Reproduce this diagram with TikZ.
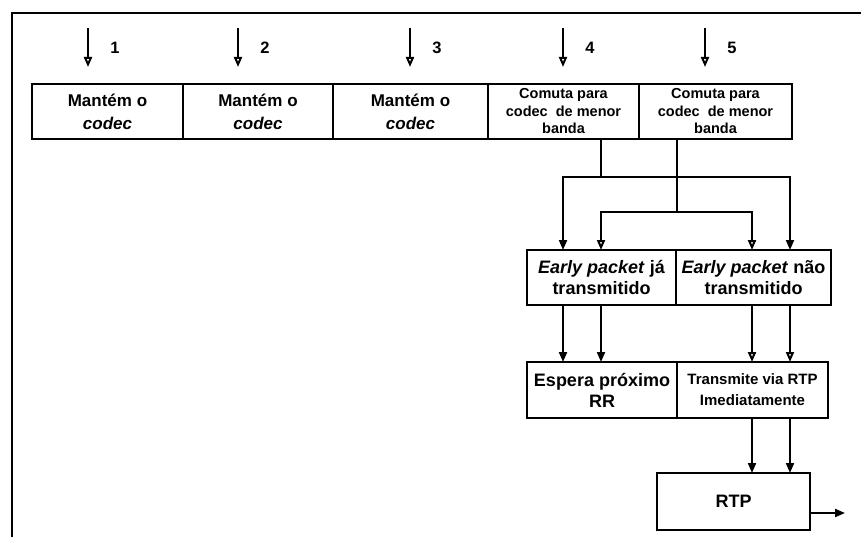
\documentclass[tikz,border=0pt]{standalone}
\usepackage{fontspec}
\setmainfont{Liberation Sans}
\usetikzlibrary{arrows.meta,positioning,calc}

\begin{document}
\begin{tikzpicture}[x=1pt,y=-1pt,line width=2pt]
\tikzstyle{cell} = [draw, outer sep=0pt, inner sep=0pt, align=center]
\tikzstyle{topcell} = [cell, minimum height=55pt, font=\bfseries\fontsize{17}{23}\selectfont]
\tikzstyle{smallcell} = [topcell, font=\bfseries\fontsize{14.5}{17.5}\selectfont]
\tikzstyle{midcell} = [cell, minimum height=55pt, font=\bfseries\fontsize{18}{21}\selectfont]
\tikzstyle{opentip} = [-{Triangle[open,width=8pt,length=10pt]}]
\tikzstyle{filltip} = [-{Triangle[width=8pt,length=10pt]}]
\useasboundingbox (0,0) rectangle (861,537);
\draw[line width=2.4pt] (12,537) -- (12,13) -- (861,13);
% first row
\node[topcell, minimum width=151pt, anchor=west] (m1) at (32,111.5) {Mantém o\\\textit{codec}};
\node[topcell, minimum width=150pt, right=0pt of m1] (m2) {Mantém o\\\textit{codec}};
\node[topcell, minimum width=155pt, right=0pt of m2] (m3) {Mantém o\\\textit{codec}};
\node[smallcell, minimum width=151pt, right=0pt of m3] (m4) {Comuta para\\codec \ de menor\\banda};
\node[smallcell, minimum width=153pt, right=0pt of m4] (m5) {Comuta para\\codec \ de menor\\banda};
\foreach \x/\n in {88/1,238/2,410/3,563/4,705/5} {
  \coordinate (t\n) at (\x,28);
  \draw[opentip] (t\n) -- ($(m\n.north -| t\n)+(0,-17)$);
  \node[font=\bfseries\fontsize{16.5}{18}\selectfont] (l\n) at (\x+27,48) {\n};
}
% second and third rows
\node[midcell, minimum width=149pt, anchor=west] (e1) at (527,277.5) {\textit{Early packet} já\\transmitido};
\node[midcell, minimum width=155pt, right=0pt of e1] (e2) {\textit{Early packet} não\\transmitido};
\node[midcell, minimum width=150pt, minimum height=56pt, anchor=west] (w1) at (527,390) {Espera próximo\\RR};
\node[midcell, minimum width=151pt, minimum height=56pt, right=0pt of w1, font=\bfseries\fontsize{15}{21}\selectfont] (w2) {Transmite via RTP\\Imediatamente};
\node[midcell, minimum width=153pt, minimum height=57pt] (rtp) at (733.5,501.5) {RTP};
\coordinate (xa) at (563,0);
\coordinate (xb) at (601,0);
\coordinate (xm) at (677,0);
\coordinate (xc) at (752,0);
\coordinate (xd) at (790,0);
\coordinate (hi) at (0,177);
\coordinate (lo) at (0,212);
\coordinate (out) at (845,513);
% connectors
\draw (m4.south -| xb) -- (hi -| xb);
\draw[filltip] (hi -| xb) -| (e1.north -| xa);
\draw[filltip] (hi -| xb) -| (e2.north -| xd);
\draw (m5.south -| xm) -- (lo -| xm);
\draw[opentip] (lo -| xm) -| (e1.north -| xb);
\draw[opentip] (lo -| xm) -| (e2.north -| xc);
\draw[filltip] (e1.south -| xa) -- (w1.north -| xa);
\draw[filltip] (e1.south -| xb) -- (w1.north -| xb);
\draw[opentip] (e2.south -| xc) -- (w2.north -| xc);
\draw[opentip] (e2.south -| xd) -- (w2.north -| xd);
\draw[filltip] (w2.south -| xc) -- (rtp.north -| xc);
\draw[filltip] (w2.south -| xd) -- (rtp.north -| xd);
\draw[filltip] (rtp.east |- out) -- (out);
\end{tikzpicture}
\end{document}
